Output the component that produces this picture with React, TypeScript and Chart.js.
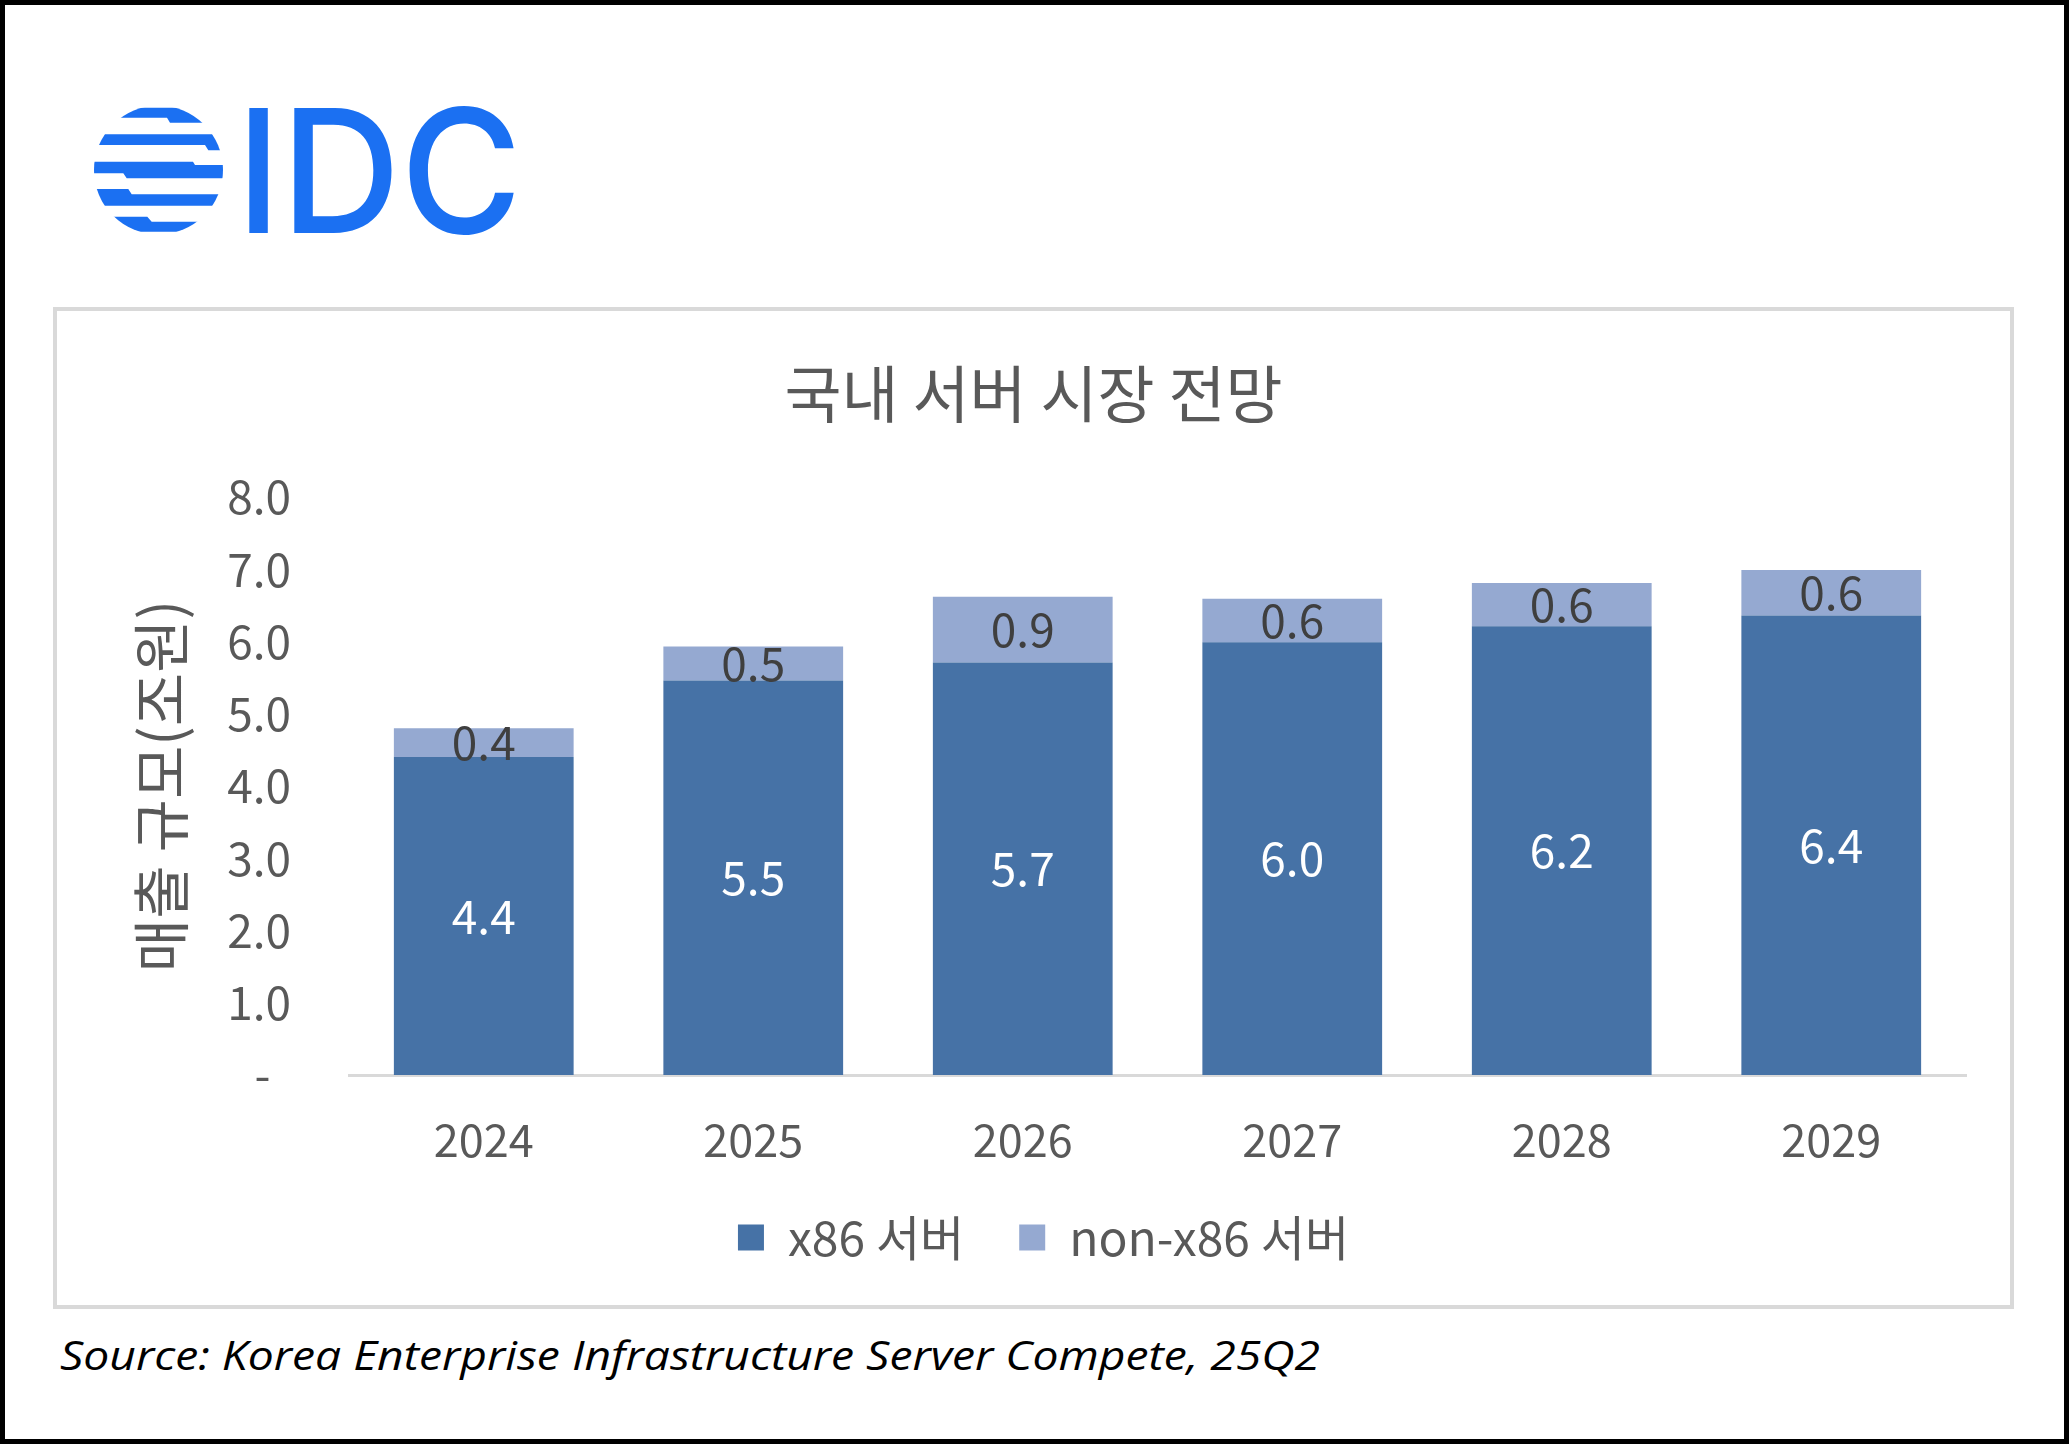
import React, { useEffect, useRef } from 'react';
import { Chart, registerables } from 'chart.js';

Chart.register(...registerables);

// ---- data ----
const YEARS = ['2024', '2025', '2026', '2027', '2028', '2029'];
const X86 = [4.4, 5.46, 5.71, 5.99, 6.21, 6.36];
const NON_X86 = [0.4, 0.47, 0.91, 0.6, 0.6, 0.63];
const SERIES_NAMES = ['x86 서버', 'non-x86 서버'];
const SERIES_COLORS = ['#4672A6', '#95A9D1'];
const LABEL_COLORS = ['#FFFFFF', '#3F3F3F'];
const Y_MIN = 0;
const Y_MAX = 8;
const Y_STEP = 1;
const TITLE = '국내 서버 시장 전망';
const Y_TITLE = '매출 규모(조원)';
const SOURCE = 'Source: Korea Enterprise Infrastructure Server Compete, 25Q2';
const LOGO_TEXT = 'IDC';

const FONT = "'Noto Sans CJK KR', 'Noto Sans', sans-serif";
const GREY = '#595959';

const segLabels = {
  id: 'segLabels',
  afterDatasetsDraw(chart: any) {
    const ctx = chart.ctx;
    chart.data.datasets.forEach((ds: any, di: number) => {
      const meta = chart.getDatasetMeta(di);
      meta.data.forEach((el: any, i: number) => {
        const v = ds.data[i];
        const p = el.getProps(['x', 'y', 'base'], true);
        ctx.save();
        ctx.font = `46px ${FONT}`;
        ctx.fillStyle = LABEL_COLORS[di];
        ctx.textAlign = 'center';
        ctx.textBaseline = 'middle';
        ctx.fillText(Number(v).toFixed(1), p.x, (p.y + p.base) / 2);
        ctx.restore();
      });
    });
  },
};

const legendShift = {
  id: 'legendShift',
  afterLayout(chart: any) {
    const l = chart.legend;
    if (l) {
      l.left += 10;
      l.right += 10;
    }
  },
};

function BarChart() {
  const ref = useRef<HTMLCanvasElement | null>(null);
  useEffect(() => {
    if (!ref.current) return;
    Chart.defaults.font.family = FONT;
    const chart = new Chart(ref.current, {
      type: 'bar',
      data: {
        labels: YEARS,
        datasets: [
          {
            label: SERIES_NAMES[0],
            data: X86,
            backgroundColor: SERIES_COLORS[0],
            borderWidth: 0,
            barPercentage: 0.667,
            categoryPercentage: 1,
          },
          {
            label: SERIES_NAMES[1],
            data: NON_X86,
            backgroundColor: SERIES_COLORS[1],
            borderWidth: 0,
            barPercentage: 0.667,
            categoryPercentage: 1,
          },
        ],
      },
      options: {
        responsive: false,
        animation: false,
        devicePixelRatio: 1,
        layout: { padding: { left: 44, right: 44, top: 0, bottom: 33.5 } },
        plugins: {
          title: {
            display: true,
            text: TITLE,
            color: GREY,
            font: { size: 62, weight: 'normal' },
            padding: { top: 46, bottom: 65.6 },
          },
          legend: {
            position: 'bottom',
            labels: {
              boxWidth: 26,
              boxHeight: 26,
              padding: 55,
              color: GREY,
              font: { size: 48 },
            },
          },
          tooltip: { enabled: false },
        },
        scales: {
          x: {
            stacked: true,
            grid: { display: false },
            border: { display: true, color: '#D9D9D9', width: 3 },
            ticks: { color: GREY, font: { size: 45 }, padding: 30 },
            afterFit: (s: any) => {
              s.height = 83.5;
            },
          },
          y: {
            stacked: true,
            min: Y_MIN,
            max: Y_MAX,
            grid: { display: false },
            border: { display: false },
            ticks: {
              stepSize: Y_STEP,
              padding: 50,
              color: GREY,
              font: { size: 46 },
              callback: (v: any) => (Number(v) === 0 ? '-  ' : Number(v).toFixed(1)),
            },
            title: {
              display: true,
              text: Y_TITLE,
              color: GREY,
              font: { size: 58 },
              padding: { top: 25, bottom: 0 },
            },
            afterFit: (s: any) => {
              s.width = 248;
            },
          },
        },
      } as any,
      plugins: [segLabels, legendShift],
    });
    return () => chart.destroy();
  }, []);
  return (
    <canvas
      ref={ref}
      width={1953}
      height={994}
      style={{ width: 1953, height: 994, display: 'block' }}
    />
  );
}

export default function App() {
  return (
    <div
      style={{
        position: 'absolute',
        left: 0,
        top: 0,
        width: 2069,
        height: 1444,
        background: '#fff',
        overflow: 'hidden',
      }}
    >
      <svg
        width={2069}
        height={1444}
        style={{ position: 'absolute', left: 0, top: 0 }}
      >
        <defs>
          <clipPath id="globe">
            <circle cx={158.5} cy={170} r={64.5} />
          </clipPath>
        </defs>
        <g fill="#1B70F2" clipPath="url(#globe)">
          <path d="M80,107.7 H240 V122.7 H170 L167,117.7 H80 Z" />
          <path d="M80,134.3 H240 V150.3 H208.3 L205,145 H80 Z" />
          <path d="M80,161.7 H193 L195,165 H240 V178.3 H126.7 L123.3,173.3 H80 Z" />
          <path d="M80,189 H128.3 L131.7,194.3 H240 V205.7 H80 Z" />
          <path d="M80,216.7 H147.3 L151.7,221.7 H240 V231.7 H80 Z" />
        </g>
        <text
          x={236}
          y={233}
          fill="#1B70F2"
          fontFamily="Inter, 'Noto Sans', sans-serif"
          fontWeight={500}
          fontSize={172}
          textLength={286}
          lengthAdjust="spacingAndGlyphs"
        >
          {LOGO_TEXT}
        </text>
        <text
          x={60}
          y={1370}
          fill="#000"
          fontFamily="'Open Sans', 'Noto Sans', sans-serif"
          fontStyle="italic"
          fontSize={40}
          textLength={1260}
          lengthAdjust="spacingAndGlyphs"
        >
          {SOURCE}
        </text>
      </svg>
      <div
        style={{
          position: 'absolute',
          left: 53,
          top: 307,
          width: 1961,
          height: 1002,
          border: '4px solid #D9D9D9',
          boxSizing: 'border-box',
          background: '#fff',
        }}
      >
        <BarChart />
      </div>
      <div
        style={{
          position: 'absolute',
          left: 0,
          top: 0,
          width: 2069,
          height: 1444,
          border: '5px solid #000',
          boxSizing: 'border-box',
          pointerEvents: 'none',
        }}
      />
    </div>
  );
}
